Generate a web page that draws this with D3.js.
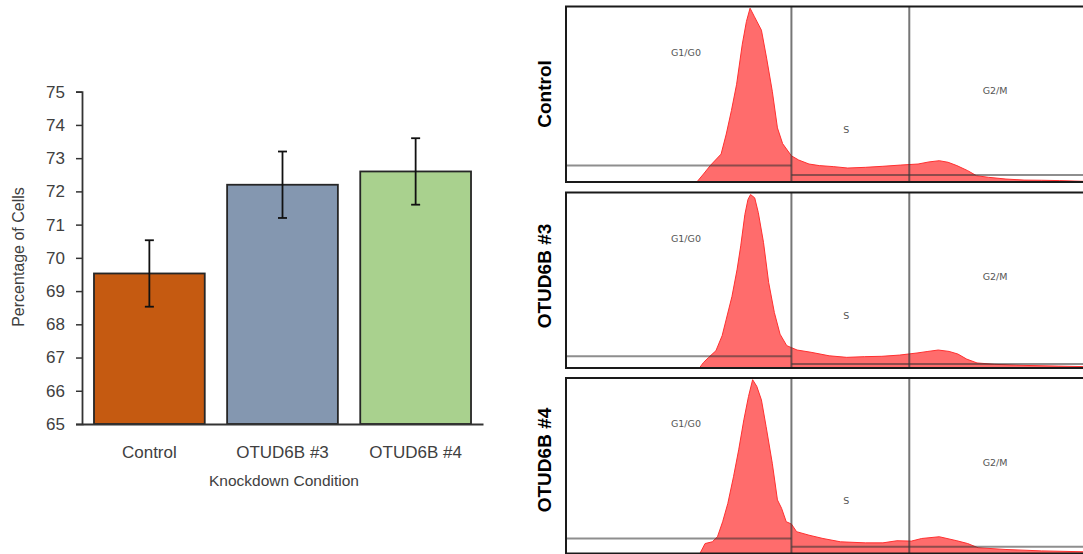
<!DOCTYPE html>
<html>
<head>
<meta charset="utf-8">
<script src="https://cdn.jsdelivr.net/npm/d3@7"></script>
<style>
  html, body { margin: 0; padding: 0; background: #fff; }
  svg { display: block; }
</style>
</head>
<body>
<svg id="chart" width="1083" height="554"></svg>
<script>
// ---------- Bar chart data ----------
const categories = ["Control", "OTUD6B #3", "OTUD6B #4"];
const percentages = [69.53, 72.2, 72.6];
const errors = [1.0, 1.0, 1.0];
const barColors = ["#C55A11", "#8497B0", "#A9D18E"];
const yTicks = [65, 66, 67, 68, 69, 70, 71, 72, 73, 74, 75];

// ---------- Flow cytometry histograms (channel 0-100, % of peak) ----------
const panelLabels = ["Control", "OTUD6B #3", "OTUD6B #4"];
const histControlX = [25.3,26.6,27.9,30,31,32,33,34.1,34.9,35.6,36.4,37.8,38.8,39.9,40.9,41.9,43.6,45,47,49,51.8,54.5,57.9,61.3,64.7,68.1,70.2,72.2,73.9,75.6,77.7,79.4,81.7,85.1,88.6,92,95.4,100];
const histControlY = [0,4.6,9.4,16,27.5,41,56,79,92,99.6,95,87,71,52,31,22,15,12.6,10.3,9.4,8.8,8.0,8.4,9,9.7,10.3,11.5,12.2,11.3,9.4,6.5,3.6,2.7,1.7,1.1,1,0.8,0.4];
const hist3X = [25.8,26.6,27.6,29,30.2,31,32.1,33.1,33.8,34.6,35.2,35.7,36.5,37.2,38.2,39.2,40.3,41.4,42.7,44.7,47.4,50.9,54.3,57.7,61.1,64.5,67.9,70,72,74.1,75.8,77.5,79.5,82.9,88.4,95.2,100];
const hist3Y = [0,3.2,6.1,9.9,18.5,28,41,56.6,70,88,96.6,99.4,97.5,89,72,49,31.8,19.4,12.8,10.3,9,7,6.1,6.5,6.7,7.4,8.6,9.5,10.3,9.5,8,5.1,2.9,2.1,1.5,1.1,0.8];
const hist4X = [25.9,26.9,28.3,29.3,30.3,31.3,32.4,33.4,34.4,35.3,36.1,36.9,37.8,38.7,39.9,40.9,41.7,42.6,43.6,44.6,47,49.7,53.1,57.9,61.3,64,66.8,68.8,72.2,75.6,77.7,79.7,85.1,92,100];
const hist4Y = [0,5.7,6.7,9.6,18.2,28.7,44,59.4,76.6,90,99.6,95.8,88,72.8,51.7,30.7,25.9,18.2,16.9,12.5,10.5,8.6,6.7,6.1,6.1,7.3,7.1,8.6,9.6,7.3,5.7,3.3,2.3,1.5,1];
const histsX = [histControlX, hist3X, hist4X];
const histsY = [histControlY, hist3Y, hist4Y];
const gateBounds = [43.6, 66.4];          // S phase start, G2/M start (channel)
const gateLeftLevel = [9.4, 6.8, 8.6];    // horizontal gate line, G1 region (% height)
const gateRightLevel = [4.0, 2.3, 3.8];   // horizontal gate line, S/G2 region (% height)
const phaseLabels = ["G1/G0", "S", "G2/M"];
const phaseLabelX = [23.2, 54.2, 83];
const phaseLabelY = [74, 30, 52];

const svg = d3.select("#chart");

// ---------- Bar chart ----------
const x = d3.scaleBand().domain(categories).range([82, 483]).paddingInner(0.168).paddingOuter(0.09);
const y = d3.scaleLinear().domain([65, 75]).range([424, 91.7]);

const bars = svg.append("g");
bars.selectAll("rect").data(categories).join("rect")
  .attr("x", d => x(d))
  .attr("y", (d, i) => y(percentages[i]))
  .attr("width", x.bandwidth())
  .attr("height", (d, i) => y(65) - y(percentages[i]))
  .attr("fill", (d, i) => barColors[i])
  .attr("stroke", "#262626")
  .attr("stroke-width", 1.8);

const eb = svg.append("g").attr("stroke", "#111").attr("stroke-width", 1.8);
categories.forEach((c, i) => {
  const cx = x(c) + x.bandwidth() / 2;
  const top = y(percentages[i] + errors[i]);
  const bot = y(percentages[i] - errors[i]);
  eb.append("line").attr("x1", cx).attr("x2", cx).attr("y1", top).attr("y2", bot);
  eb.append("line").attr("x1", cx - 4.5).attr("x2", cx + 4.5).attr("y1", top).attr("y2", top);
  eb.append("line").attr("x1", cx - 4.5).attr("x2", cx + 4.5).attr("y1", bot).attr("y2", bot);
});

const yAxis = svg.append("g").attr("transform", "translate(82,0)")
  .call(d3.axisLeft(y).tickValues(yTicks).tickSize(6).tickPadding(11).tickFormat(d3.format("d")));
yAxis.select(".domain").attr("stroke", "#333").attr("stroke-width", 1.8);
yAxis.selectAll(".tick line").attr("stroke", "#333").attr("stroke-width", 1.5);
yAxis.selectAll("text").attr("font-family", "Liberation Sans, Arial, sans-serif").attr("font-size", 17).attr("fill", "#404040");

const xAxis = svg.append("g").attr("transform", "translate(0,424)")
  .call(d3.axisBottom(x).tickSize(0).tickPadding(22));
xAxis.select(".domain").attr("stroke", "#333").attr("stroke-width", 1.8);
xAxis.selectAll("text").attr("font-family", "Liberation Sans, Arial, sans-serif").attr("font-size", 17).attr("fill", "#404040");

svg.append("text").attr("x", 284).attr("y", 486).attr("text-anchor", "middle")
  .attr("font-family", "Liberation Sans, Arial, sans-serif").attr("font-size", 15.5).attr("fill", "#404040")
  .text("Knockdown Condition");
svg.append("text").attr("transform", "translate(24,257) rotate(-90)").attr("text-anchor", "middle")
  .attr("font-family", "Liberation Sans, Arial, sans-serif").attr("font-size", 16).attr("fill", "#404040")
  .text("Percentage of Cells");

// ---------- Histogram panels ----------
const panelTops = [6.5, 192.5, 378];
const panelH = 175.5;
const hx = d3.scaleLinear().domain([0, 100]).range([566, 1083]);
const labelY = [94, 276, 460];

panelTops.forEach((t, k) => {
  const g = svg.append("g");
  const hy = d3.scaleLinear().domain([0, 100]).range([t + panelH, t + 1]);
  const pts = histsX[k].map((v, i) => [v, histsY[k][i]]);
  const area = d3.area().x(d => hx(d[0])).y0(hy(0)).y1(d => hy(d[1])).curve(d3.curveLinear);
  const line = d3.line().x(d => hx(d[0])).y(d => hy(d[1]));
  g.append("path").datum(pts).attr("d", area).attr("fill", "#ff6c6c");
  g.append("path").datum(pts).attr("d", line).attr("fill", "none").attr("stroke", "#ff3030").attr("stroke-width", 1);

  // gate lines
  g.append("line").attr("x1", hx(0)).attr("x2", hx(gateBounds[0]))
    .attr("y1", hy(gateLeftLevel[k])).attr("y2", hy(gateLeftLevel[k]))
    .attr("stroke", "rgba(50,50,50,0.55)").attr("stroke-width", 2);
  g.append("line").attr("x1", hx(gateBounds[0])).attr("x2", hx(100) + 5)
    .attr("y1", hy(gateRightLevel[k])).attr("y2", hy(gateRightLevel[k]))
    .attr("stroke", "rgba(50,50,50,0.55)").attr("stroke-width", 2);
  gateBounds.forEach(b => {
    g.append("line").attr("x1", hx(b)).attr("x2", hx(b)).attr("y1", t).attr("y2", t + panelH)
      .attr("stroke", "rgba(60,60,60,0.7)").attr("stroke-width", 2);
  });

  phaseLabels.forEach((p, i) => {
    g.append("text").attr("x", hx(phaseLabelX[i])).attr("y", hy(phaseLabelY[i]) + 3)
      .attr("text-anchor", "middle").attr("font-family", "DejaVu Sans, Verdana, sans-serif")
      .attr("font-size", 9.5).attr("fill", "#555").text(p);
  });

  g.append("rect").attr("x", 566).attr("y", t).attr("width", 530).attr("height", panelH)
    .attr("fill", "none").attr("stroke", "#1a1a1a").attr("stroke-width", 2);

  svg.append("text").attr("transform", `translate(551,${labelY[k]}) rotate(-90)`)
    .attr("text-anchor", "middle").attr("font-family", "Liberation Sans, Arial, sans-serif")
    .attr("font-weight", "bold").attr("font-size", 19).attr("fill", "#000").text(panelLabels[k]);
});
</script>
</body>
</html>
